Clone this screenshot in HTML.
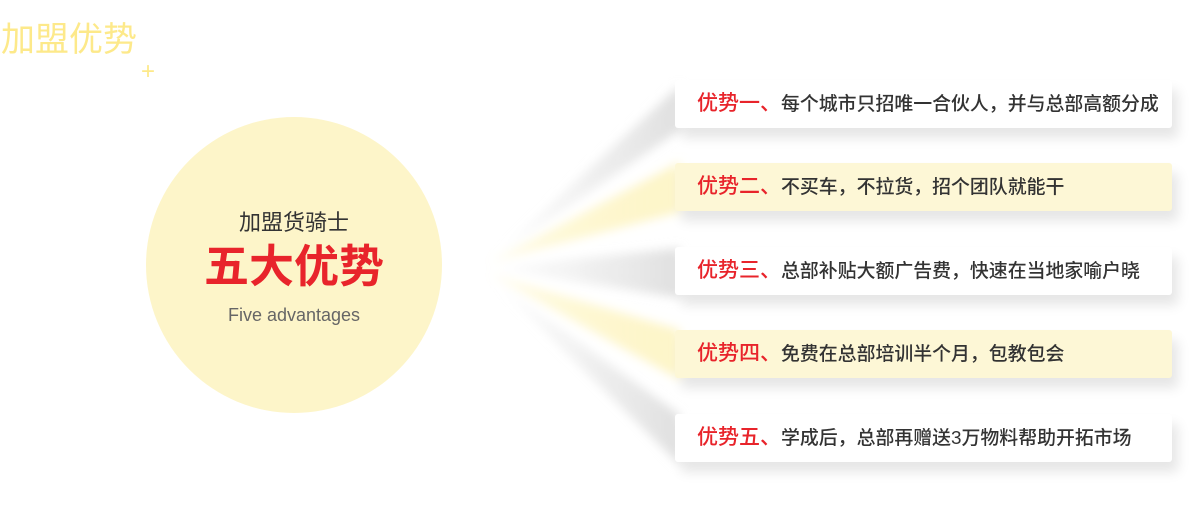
<!DOCTYPE html>
<html><head><meta charset="utf-8"><style>
body{margin:0;width:1200px;height:529px;background:#fff;position:relative;overflow:hidden;font-family:"Liberation Sans","Noto Sans CJK SC",sans-serif}
.t{position:absolute;left:1px;top:12px;font-size:34px;color:#fde98a}
.plus{position:absolute;left:141px;top:58px;font-size:24px;color:#fde98a}
.c{position:absolute;left:146px;top:117px;width:296px;height:296px;border-radius:50%;background:#fdf5c9;text-align:center}
.b{position:absolute;left:675px;width:497px;height:48px;border-radius:3px;box-shadow:6px 10px 12px rgba(0,0,0,0.10);font-size:18.9px;color:#333;line-height:48px;box-sizing:border-box;padding-left:22px;white-space:nowrap;font-weight:500}
.b span{color:#e8242b;font-size:21px}
</style></head><body>
<div class="t">加盟优势</div><div class="plus">+</div>
<svg width="1200" height="529" style="position:absolute;left:0;top:0">
<defs>
<linearGradient id="g" x1="0" x2="1"><stop offset="0" stop-color="#e4e4e4" stop-opacity="0"/><stop offset="1" stop-color="#e0e0e0"/></linearGradient>
<linearGradient id="y" x1="0" x2="1"><stop offset="0" stop-color="#fdf0a0" stop-opacity="0.2"/><stop offset="1" stop-color="#fdf5c9"/></linearGradient>
<filter id="bl"><feGaussianBlur stdDeviation="5"/></filter>
</defs>
<g filter="url(#bl)">
<polygon points="490,260 680,85 680,130" fill="url(#g)"/>
<polygon points="490,262 680,162 680,212" fill="url(#y)"/>
<polygon points="490,268 680,248 680,298" fill="url(#g)"/>
<polygon points="490,274 680,330 680,380" fill="url(#y)"/>
<polygon points="490,278 680,415 680,465" fill="url(#g)"/>
</g>
</svg>
<div class="c">
<div style="margin-top:88px;font-size:22px;color:#333">加盟货骑士</div>
<div style="margin-top:2px;font-size:45px;font-weight:bold;color:#e8242b;line-height:56px">五大优势</div>
<div style="margin-top:10px;font-size:18px;color:#666">Five advantages</div>
</div>
<div class="b" style="top:80px;background:#fff">
<span>优势一、</span>每个城市只招唯一合伙人，并与总部高额分成</div>
<div class="b" style="top:163px;background:#fdf7d6">
<span>优势二、</span>不买车，不拉货，招个团队就能干</div>
<div class="b" style="top:247px;background:#fff">
<span>优势三、</span>总部补贴大额广告费，快速在当地家喻户晓</div>
<div class="b" style="top:330px;background:#fdf7d6">
<span>优势四、</span>免费在总部培训半个月，包教包会</div>
<div class="b" style="top:414px;background:#fff">
<span>优势五、</span>学成后，总部再赠送3万物料帮助开拓市场</div>
</body></html>
